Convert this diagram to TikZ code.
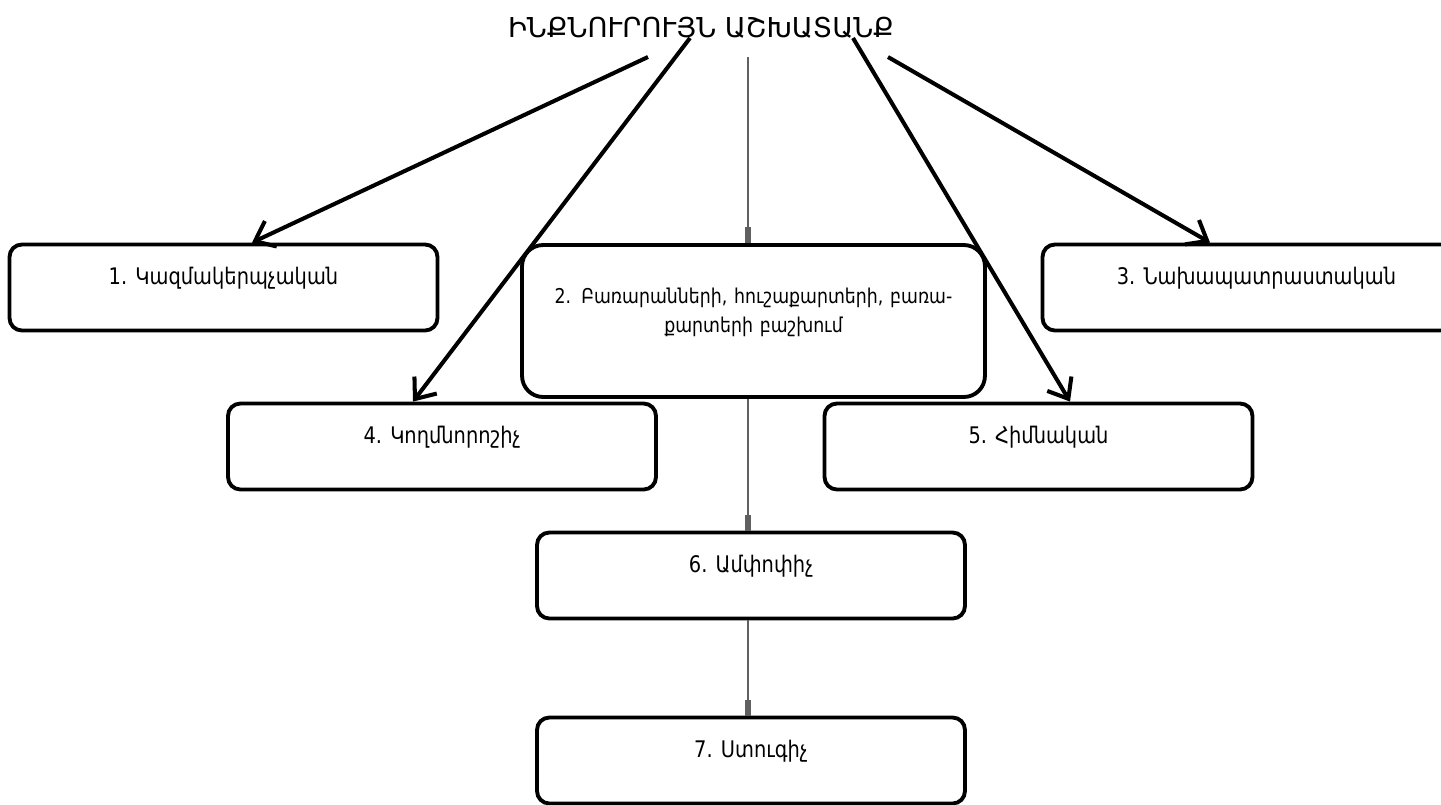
\documentclass[tikz,border=0pt]{standalone}
\usepackage{fontspec}
\setmainfont{DejaVu Sans}
\newfontfamily\armnarrow[FakeStretch=0.85]{DejaVu Sans}
\usetikzlibrary{arrows.meta}
\tikzset{
  stage/.style={draw, line width=2.2pt, rounded corners=7pt, fill=white, inner sep=0pt,
    minimum width=8.56cm, text height=0.8cm, text depth=0.92cm,
    font=\armnarrow\fontsize{13}{17}\selectfont},
  feed/.style={line width=2.3pt, -{Straight Barb[length=10pt,width=16pt]}},
  link/.style={draw=gray!75!black, line width=1.1pt,
    -{Rectangle[length=9pt,width=3.5pt]}},
}
\begin{document}
\begin{tikzpicture}[x=0.02cm, y=-0.02cm]
  \useasboundingbox (0,0) rectangle (1441,805);
  \node[font=\fontsize{15.6}{18}\selectfont] (title) at (701,28) {ԻՆՔՆՈՒՐՈՒՅՆ ԱՇԽԱՏԱՆՔ};
  \coordinate (s0) at (748,57);
  \coordinate (s1) at (648,57);
  \coordinate (s2) at (690,38);
  \coordinate (s3) at (853,38);
  \coordinate (s4) at (888,57);
  % stages
  \node[stage] (b1) at (223.5,287.5) {1. Կազմակերպչական};
  \node[stage, minimum width=9.26cm, text width=9.2cm, align=center,
    text height=1.16cm, text depth=1.88cm, rounded corners=12pt,
    font=\armnarrow\fontsize{11.6}{17}\selectfont] (b2) at (753.5,321)
    {2. Բառարանների, հուշաքարտերի, բառա-\\քարտերի բաշխում};
  \node[stage] (b3) at (1256.5,287.5) {3. Նախապատրաստական};
  \node[stage] (b4) at (442,446.5) {4. Կողմնորոշիչ};
  \node[stage] (b5) at (1038.5,446.5) {5. Հիմնական};
  \node[stage] (b6) at (751,575.5) {6. Ամփոփիչ};
  \node[stage] (b7) at (751,760.5) {7. Ստուգիչ};
  % arrows
  \draw[feed] (s1) -- ([xshift=0.57cm]b1.north);
  \draw[feed] (s2) -- ([xshift=-0.58cm]b4.north);
  \draw[feed] (s3) -- ([xshift=0.63cm]b5.north);
  \draw[feed] (s4) -- ([xshift=-0.93cm]b3.north);
  \draw[link] (s0) -- (s0 |- b2.north);
  \draw[link] (s0 |- b2.south) -- (s0 |- b6.north);
  \draw[link] (s0 |- b6.south) -- (s0 |- b7.north);
\end{tikzpicture}
\end{document}
